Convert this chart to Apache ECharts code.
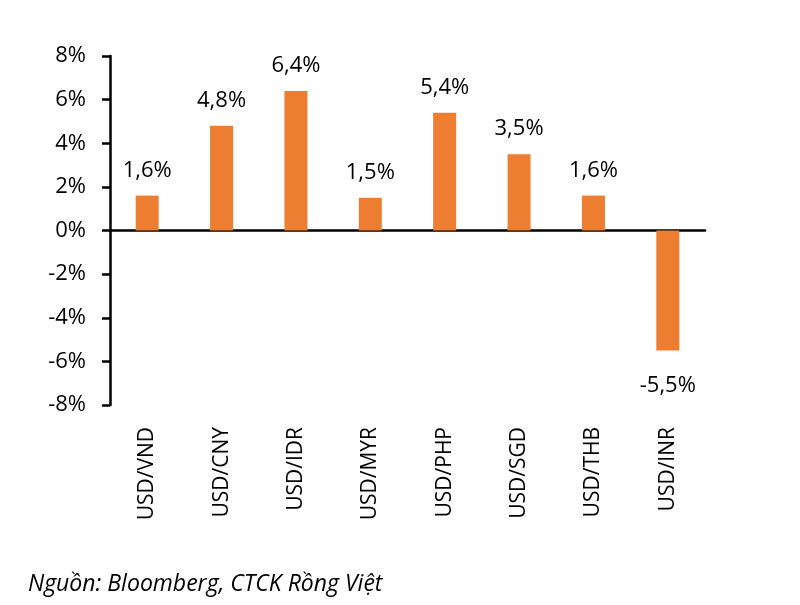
<!DOCTYPE html>
<html>
<head>
<meta charset="utf-8">
<script src="https://cdn.jsdelivr.net/npm/echarts@6/dist/echarts.min.js"></script>
<style>
html,body{margin:0;padding:0;background:#fff;}
#c{width:800px;height:605px;}
</style>
</head>
<body>
<div id="c"></div>
<script>
const categories = ["USD/VND","USD/CNY","USD/IDR","USD/MYR","USD/PHP","USD/SGD","USD/THB","USD/INR"];
const values = [1.6, 4.8, 6.4, 1.5, 5.4, 3.5, 1.6, -5.5];
const yMin = -8, yMax = 8, yStep = 2;
const sourceText = "Nguồn: Bloomberg, CTCK Rồng Việt";

const font = "'Open Sans', 'Noto Sans', sans-serif";
const chart = echarts.init(document.getElementById('c'), null, {renderer:'canvas'});
chart.setOption({
  animation: false,
  backgroundColor: '#fff',
  grid: {left: 110, right: 95, top: 56, bottom: 200, containLabel: false},
  xAxis: [{
    type: 'category', data: categories,
    axisLine: {show: true, onZero: true, lineStyle: {color: '#000', width: 2.5}},
    axisTick: {show: false}, axisLabel: {show: false}, splitLine: {show: false}
  }, {
    type: 'category', data: categories, position: 'bottom',
    axisLine: {show: false, onZero: false}, axisTick: {show: false},
    axisLabel: {rotate: 90, margin: 22, color: '#000', fontSize: 21, fontFamily: font}
  }],
  yAxis: {
    type: 'value', min: yMin, max: yMax, interval: yStep,
    axisLine: {show: true, lineStyle: {color: '#000', width: 2.5}},
    axisTick: {show: true, length: 8, lineStyle: {color: '#000', width: 2.5}},
    splitLine: {show: false},
    axisLabel: {color: '#000', fontSize: 22, fontFamily: font, margin: 24,
      formatter: v => v + '%'}
  },
  series: [{
    type: 'bar', xAxisIndex: 0, barWidth: 23,
    data: values.map(v => v < 0 ? {value: v, label: {distance: 24}} : v),
    itemStyle: {color: '#ED7D31'},
    label: {show: true, position: 'outside', distance: 14, color: '#000', fontSize: 22, fontFamily: font,
      formatter: p => String(p.value).replace('.', ',') + '%'}
  }],
  graphic: [{
    type: 'text', left: 28, top: 573,
    style: {text: sourceText, font: "italic 23px " + font, fill: '#000'}
  }]
});
</script>
</body>
</html>
